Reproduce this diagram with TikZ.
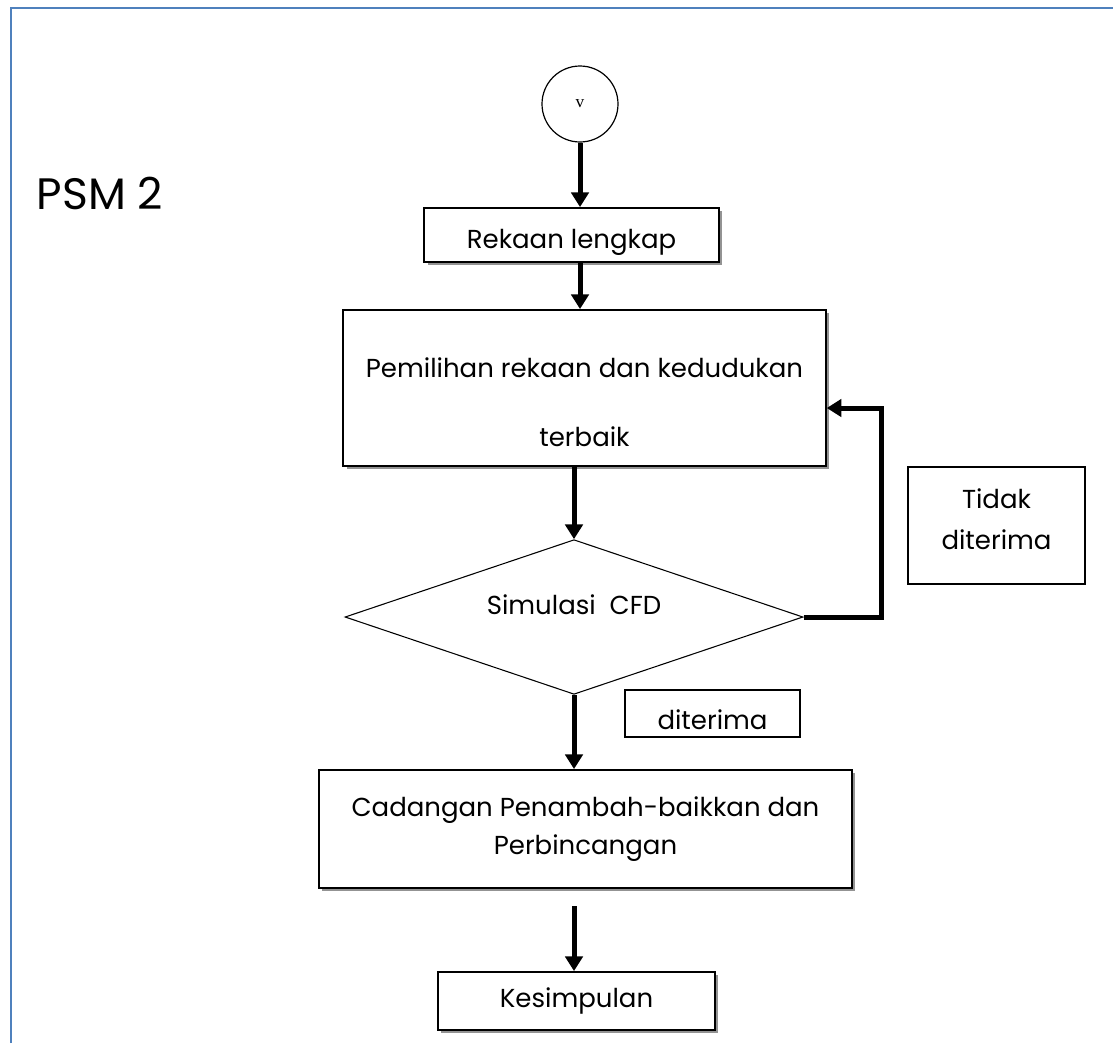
\documentclass[tikz,border=0pt]{standalone}
\usepackage{fontspec}
\setmainfont{Poppins}
\newfontfamily\vfont{Liberation Serif}
\usetikzlibrary{arrows.meta,shapes.geometric,shadows}
\definecolor{bingkai}{RGB}{79,129,189}

\begin{document}
\begin{tikzpicture}[x=0.75pt, y=-0.75pt,
		every node/.style={font=\fontsize{19.5}{24}\selectfont, inner sep=0pt},
		kotak/.style={rectangle, draw, line width=1.4pt, drop shadow={shadow xshift=2.5pt, shadow yshift=-2.5pt, fill=gray!85, opacity=1}, fill=white},
		nota/.style={rectangle, draw, line width=1.2pt, align=center},
		anak/.style={line width=3.75pt, -{Triangle[width=13pt,length=11pt]}}]

		\useasboundingbox (0,0) rectangle (1113,1043);
		\draw[bingkai, line width=2pt] (11,1043) -- (11,8) -- (1113,8);

		\node[font=\fontsize{33}{36}\selectfont] (judul) at (100,193) {PSM 2};

		\node[circle, draw, line width=0.9pt, minimum size=57pt] (mula) at (580,104) {\vfont\fontsize{13}{13}\selectfont v};
		\node[kotak, minimum width=221pt, minimum height=40.5pt] (rekaan) at (571.5,235) {\rule{0pt}{26pt}Rekaan lengkap};
		\node[kotak, align=center, minimum width=362pt, minimum height=117pt] (pilih) at (584.5,388) {\rule{0pt}{36pt}Pemilihan rekaan dan kedudukan\\[27.75pt] terbaik};
		\node[diamond, draw, line width=0.8pt, aspect=3, minimum width=343.5pt, minimum height=116pt] (simulasi) at (574,617) {\raisebox{18pt}{Simulasi\ \ CFD}};
		\node[nota, minimum width=132.75pt, minimum height=87.75pt] (tidak) at (996.5,525.5) {Tidak\\[6.75pt] diterima\rule[-10pt]{0pt}{10pt}};
		\node[nota, minimum width=131.25pt, minimum height=35.25pt] (terima) at (712.5,713.5) {\rule{0pt}{24pt}diterima};
		\node[kotak, align=center, minimum width=399.75pt, minimum height=88.5pt] (cadangan) at (585.5,829) {Cadangan Penambah-baikkan dan\\[4.5pt] Perbincangan};
		\node[kotak, minimum width=207.75pt, minimum height=43.5pt] (simpul) at (576.5,1001) {Kesimpulan};

		\coordinate (balik) at (881,408);

		\draw[anak] (mula.south) -- (mula.south |- rekaan.north);
		\draw[anak] (rekaan.south -| mula) -- (pilih.north -| mula);
		\draw[anak] (pilih.south -| simulasi) -- (simulasi.north);
		\draw[anak] (simulasi.east) -| (balik) -- (pilih.east |- balik);
		\draw[anak] (simulasi.south) -- (cadangan.north -| simulasi);
		\draw[anak, shorten <=13pt] (cadangan.south -| simulasi) -- (simpul.north -| simulasi);
	\end{tikzpicture}
\end{document}
